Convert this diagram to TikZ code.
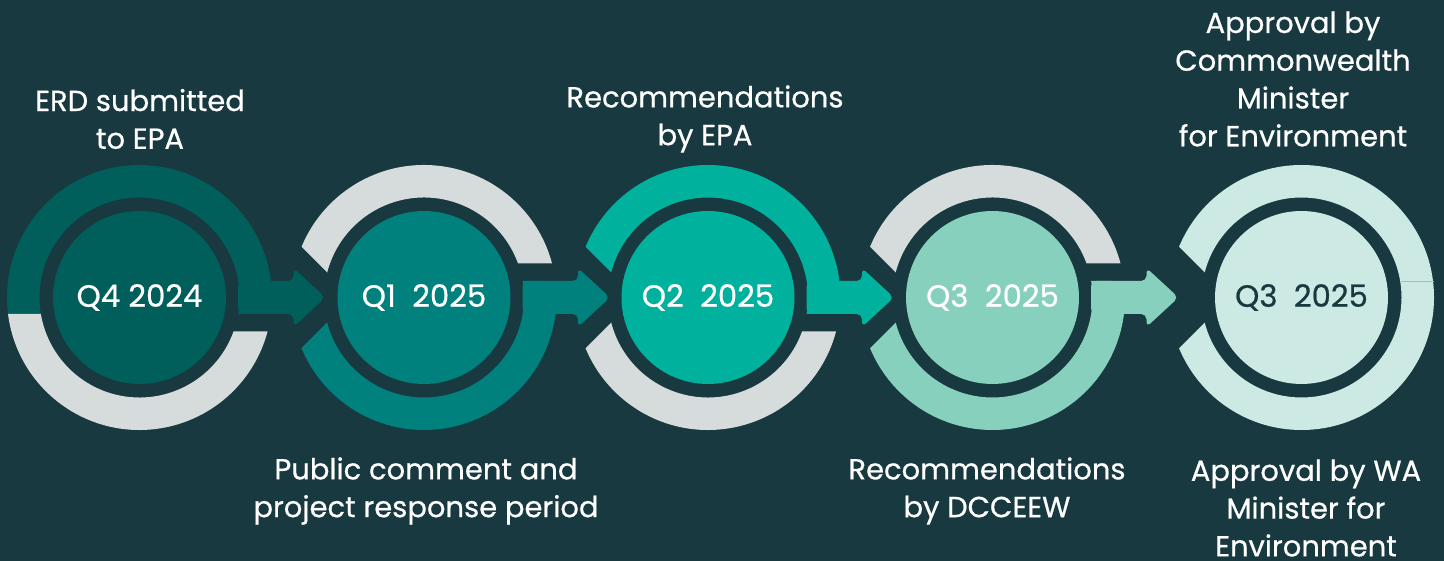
\documentclass[tikz,border=0pt]{standalone}
\usepackage{fontspec}
\setmainfont{Poppins}
\newfontfamily\medfont{Poppins}[FakeBold=0.6]
\definecolor{bg}{HTML}{17393F}
\definecolor{stageA}{HTML}{005E5B}
\definecolor{stageB}{HTML}{00817D}
\definecolor{stageC}{HTML}{00B19D}
\definecolor{stageD}{HTML}{88D0BE}
\definecolor{stageE}{HTML}{CDE9E4}
\definecolor{ringgrey}{HTML}{D6DCDC}
\definecolor{seam}{HTML}{9CC4BC}
\begin{document}
\begin{tikzpicture}[x=0.02cm,y=0.02cm,
  disk/.style={circle,minimum size=3.46cm,inner sep=0pt,text=white,
    font=\medfont\fontsize{17.5}{20}\selectfont},
  lbl/.style={text=white,align=center,font=\medfont\fontsize{16.5}{21.5}\selectfont}]
\fill[bg] (0,0) rectangle (1444,561);
\useasboundingbox (0,0) rectangle (1444,561);

% colour band on one side, grey band on the other
\foreach \x/\s/\col in {139.5/1/stageA, 424/-1/stageB, 708/1/stageC, 992.5/-1/stageD}{
  \begin{scope}[shift={(\x,263.5)},yscale=\s]
    \fill[\col] (187.15:132.5) arc[start angle=187.15,end angle=-7.15,radius=132.5]
      -- (-9.5:100) arc[start angle=-9.5,end angle=189.5,radius=100] -- cycle;
    \fill[ringgrey] (187.15:132.5) arc[start angle=187.15,end angle=345.13,radius=132.5]
      -- (340.12:100) arc[start angle=340.12,end angle=189.5,radius=100] -- cycle;
  \end{scope}
}
\fill[stageE,even odd rule] (1301.5,263.5) circle[radius=132.5] circle[radius=100];
\draw[seam,line width=0.6pt] (1401.2,279.5) -- (1433.5,279.5);

% notches where the arrows come in
\foreach \x in {424,708,992.5,1301.5}
  \fill[bg] (\x-72,263.5) -- ++(-63,63) -- ++(0,-126) -- cycle;

% arrows
\foreach \x/\col in {139.5/stageA, 424/stageB, 708/stageC, 992.5/stageD}
  \fill[\col,rounded corners=3] (\x+98.6,247) -- (\x+154,247) -- (\x+154,234)
    -- (\x+186,263.5) -- (\x+154,293) -- (\x+154,280) -- (\x+98.6,280) -- cycle;

\node[disk,fill=stageA] (q4) at (139.5,263.5) {Q4 2024};
\node[disk,fill=stageB] (q1) at (424,263.5) {Q1\ \ 2025};
\node[disk,fill=stageC] (q2) at (708,263.5) {Q2\ \ 2025};
\node[disk,fill=stageD] (q3) at (992.5,263.5) {Q3\ \ 2025};
\node[disk,fill=stageE,text=bg] (q3b) at (1301.5,263.5) {Q3\ \ 2025};

\node[lbl] (erd) at (140,442) {ERD submitted\\to EPA};
\node[lbl] (pub) at (426,70) {Public comment and\\project response period};
\node[lbl] (epa) at (705,442) {Recommendations\\by EPA};
\node[lbl] (dcc) at (987,70) {Recommendations\\by DCCEEW};
\node[lbl] (cwm) at (1293,482) {Approval by\\Commonwealth\\Minister\\for Environment};
\node[lbl] (wam) at (1306,53) {Approval by WA\\Minister for\\Environment};
\end{tikzpicture}
\end{document}
